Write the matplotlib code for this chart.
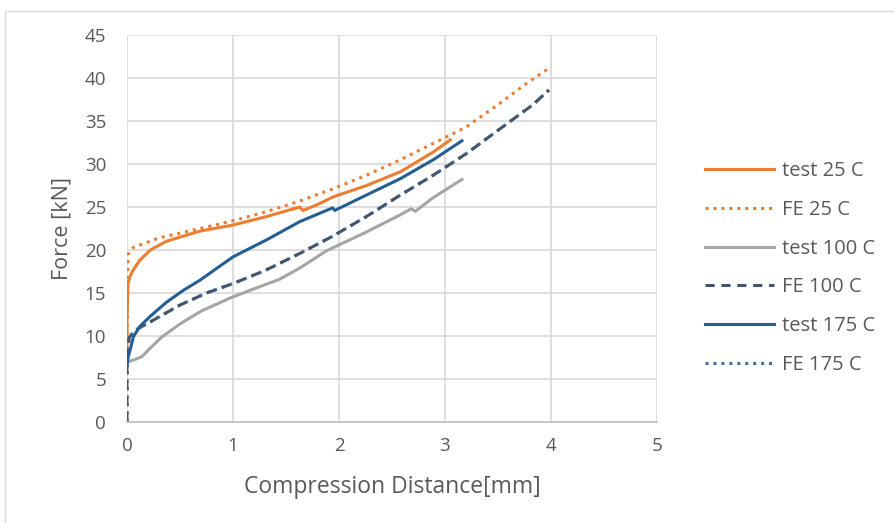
import matplotlib.pyplot as plt
from matplotlib.patches import Rectangle

# readings taken off the reference chart (distance in mm, force in kN)
test25_x = [0, 0, 0.01, 0.03, 0.06, 0.12, 0.22, 0.37, 0.5, 0.69, 1.0, 1.32, 1.63, 1.66, 1.8, 1.95, 2.26, 2.58, 2.89, 3.05]
test25_y = [8.5, 12, 16.1, 17.0, 17.7, 18.8, 20.0, 21.0, 21.5, 22.2, 22.9, 23.9, 25.0, 24.6, 25.3, 26.2, 27.5, 29.1, 31.4, 32.8]

fe25_x = [0, 0, 0.01, 0.06, 0.3, 0.69, 1.0, 1.3, 1.63, 1.94, 2.26, 2.58, 2.89, 3.2, 3.5, 3.75, 4.0]
fe25_y = [0, 9, 19.5, 20.3, 21.4, 22.5, 23.4, 24.4, 25.7, 27.1, 28.7, 30.5, 32.4, 34.3, 36.9, 39.2, 41.3]

test100_x = [0, 0.01, 0.06, 0.14, 0.22, 0.33, 0.5, 0.7, 0.97, 1.2, 1.44, 1.63, 1.88, 2.26, 2.58, 2.68, 2.72, 2.89, 3.16]
test100_y = [6.8, 7.0, 7.2, 7.6, 8.6, 9.9, 11.4, 12.9, 14.4, 15.5, 16.6, 17.9, 19.9, 22.1, 24.1, 24.8, 24.5, 26.1, 28.2]

fe100_x = [0, 0, 0.02, 0.07, 0.14, 0.3, 0.5, 0.75, 1.0, 1.3, 1.63, 1.94, 2.26, 2.58, 2.89, 3.2, 3.52, 3.83, 3.98]
fe100_y = [0, 7, 9.8, 10.6, 11.1, 12.2, 13.6, 15.0, 16.1, 17.6, 19.6, 21.6, 23.9, 26.4, 28.7, 31.2, 34.1, 36.9, 38.6]

test175_x = [0, 0.01, 0.03, 0.06, 0.12, 0.22, 0.37, 0.53, 0.69, 0.85, 1.0, 1.32, 1.63, 1.94, 1.96, 2.26, 2.58, 2.89, 3.16]
test175_y = [6.5, 7.5, 8.4, 9.9, 11.1, 12.3, 13.9, 15.3, 16.5, 17.9, 19.2, 21.2, 23.3, 24.9, 24.6, 26.4, 28.3, 30.5, 32.7]

# FE 175 sits almost exactly under the FE 100 curve
fe175_x = [0, 0, 0.02, 0.07, 0.14, 0.3, 0.5, 0.75, 1.0, 1.3, 1.63, 1.94, 2.26, 2.58, 2.89, 3.2, 3.52, 3.83, 3.98]
fe175_y = [0, 7, 9.8, 10.6, 11.1, 12.2, 13.6, 15.0, 16.1, 17.6, 19.6, 21.6, 23.9, 26.4, 28.7, 31.2, 34.1, 36.9, 38.6]

x_ticks = [0, 1, 2, 3, 4, 5]
y_ticks = [0, 5, 10, 15, 20, 25, 30, 35, 40, 45]

plt.rcParams['font.family'] = ['Open Sans', 'DejaVu Sans']
txt = '#595959'

fig = plt.figure(figsize=(8.95, 5.23), dpi=100)
fig.patches.append(Rectangle((5 / 895, -0.01), 1.0, 1 - 11 / 523 + 0.01, transform=fig.transFigure,
                             fill=False, edgecolor='#d9d9d9', linewidth=1.0))
ax = fig.add_axes([127 / 895, 1 - 422 / 523, 530 / 895, 387 / 523])

ax.plot(test25_x, test25_y, color='#ED7D31', lw=2.2, label='test 25 C')
ax.plot(fe25_x, fe25_y, color='#ED7D31', lw=2.2, ls=(0, (1, 1.6)), label='FE 25 C')
ax.plot(test100_x, test100_y, color='#A5A5A5', lw=2.2, label='test 100 C')
ax.plot(fe175_x, fe175_y, color='#3f6fa5', lw=2.2, ls=(0, (1, 1.6)), label='FE 175 C')
ax.plot(fe100_x, fe100_y, color='#44546A', lw=2.2, ls=(0, (3, 2.2)), label='FE 100 C')
ax.plot(test175_x, test175_y, color='#255E91', lw=2.2, label='test 175 C')

ax.set_xlim(0, 5)
ax.set_ylim(0, 45)
ax.set_xticks(x_ticks)
ax.set_yticks(y_ticks)
ax.grid(True, color='#d9d9d9', lw=1.2)
ax.set_axisbelow(True)
for s in ['top', 'right', 'left']:
    ax.spines[s].set_visible(False)
ax.spines['bottom'].set_color('#bfbfbf')
ax.spines['bottom'].set_linewidth(1.2)
ax.tick_params(length=0, labelsize=13.5, colors=txt)
ax.tick_params(axis='x', pad=11)
ax.tick_params(axis='y', pad=15)

ax.set_xlabel('Compression Distance[mm]', fontsize=16.5, color=txt, va='center')
ax.set_ylabel('Force [kN]', fontsize=15.5, color=txt, va='center')
ax.xaxis.set_label_coords(0.5, (422 - 487) / 387)
ax.yaxis.set_label_coords((62 - 127) / 530, 0.5)

handles, labels = ax.get_legend_handles_labels()
order = ['test 25 C', 'FE 25 C', 'test 100 C', 'FE 100 C', 'test 175 C', 'FE 175 C']
hmap = dict(zip(labels, handles))
leg = fig.legend([hmap[o] for o in order], order, loc='center left',
                 bbox_to_anchor=(687 / 895, 1 - 268 / 523), frameon=False,
                 fontsize=14.5, handlelength=3.4, handletextpad=0.4, labelspacing=0.93)
for t in leg.get_texts():
    t.set_color(txt)

fig.savefig('out.png', dpi=100)
